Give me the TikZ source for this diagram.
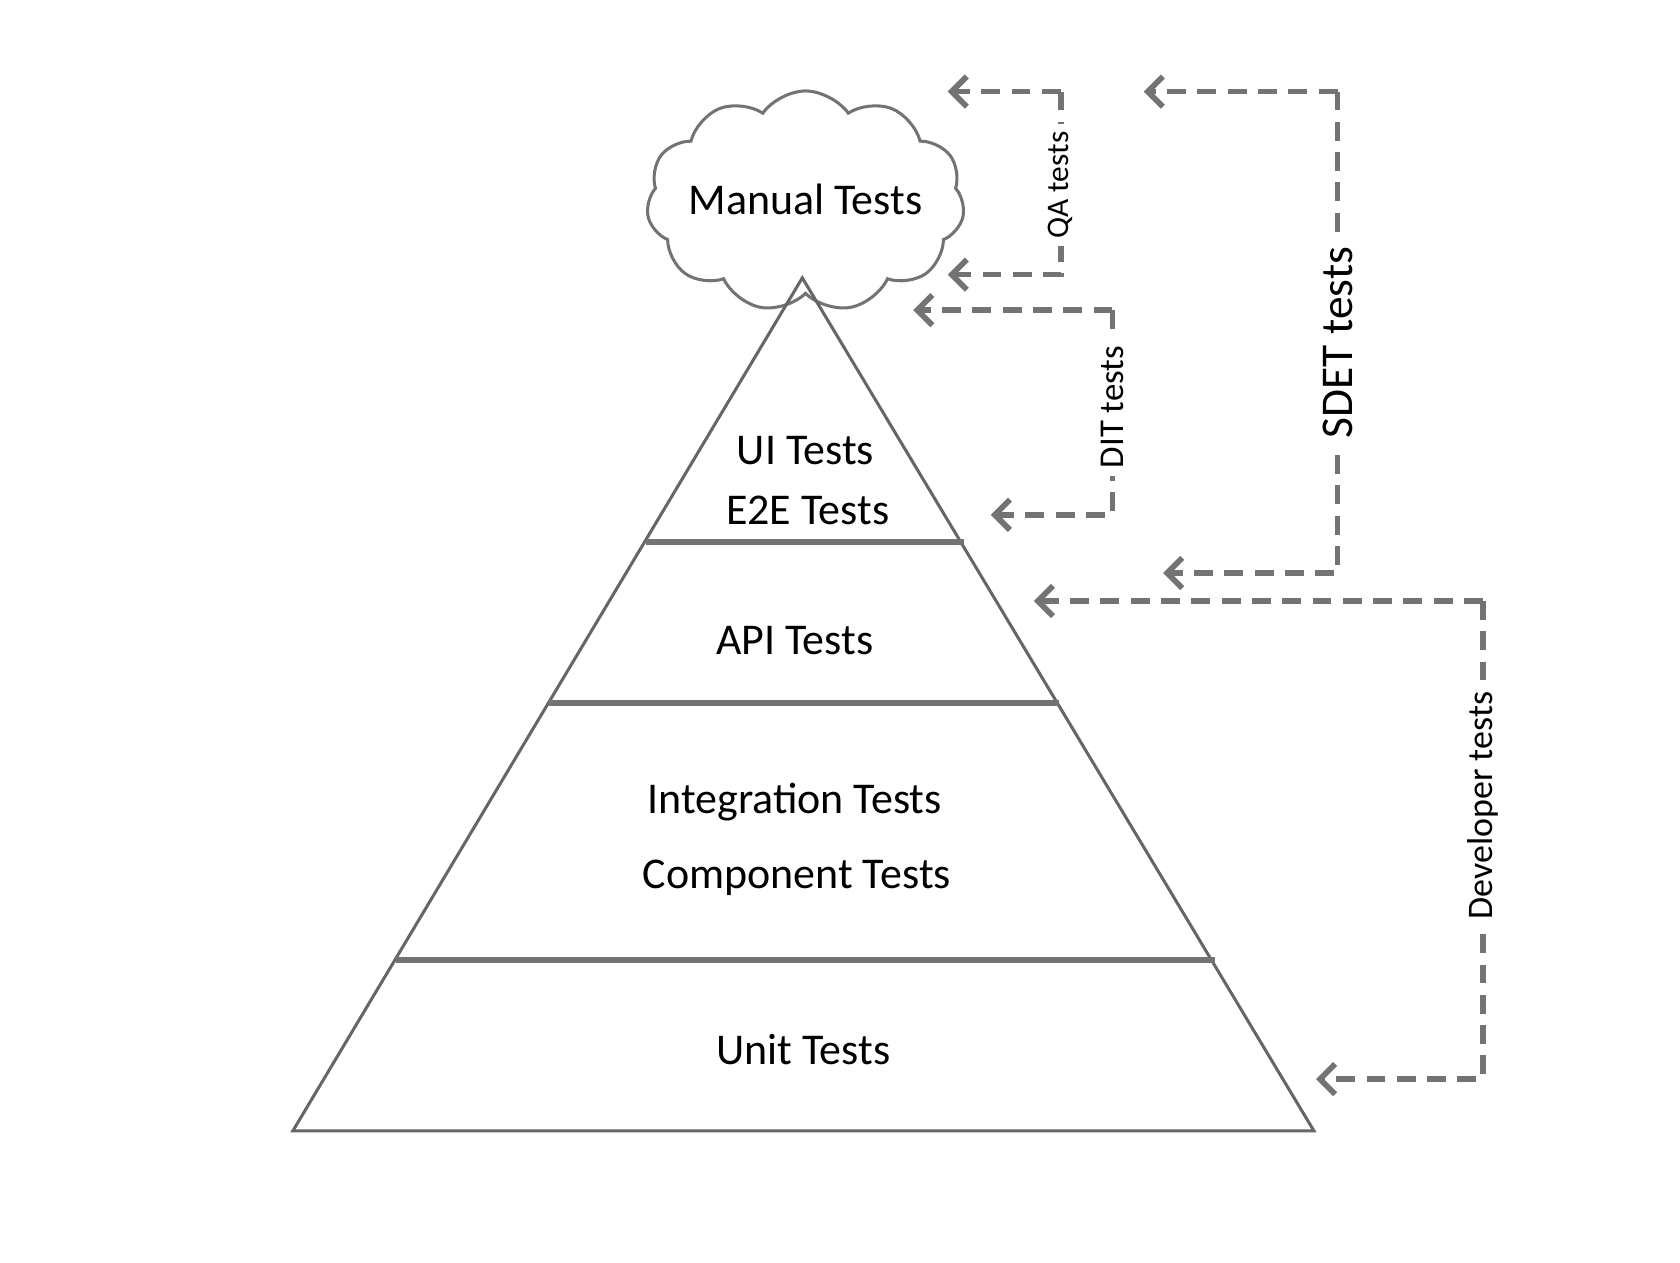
\documentclass[tikz,border=0pt]{standalone}
\usepackage{fontspec}
\setmainfont{Carlito}
\usetikzlibrary{shapes.symbols,arrows.meta}
\begin{document}
\begin{tikzpicture}[x=0.01cm,y=-0.01cm,
  lbl/.style={font=\fontsize{11.6}{14}\selectfont},
  conn/.style={draw=black!55,line width=1.5pt,dash pattern=on 5pt off 3pt,-{Straight Barb[length=4pt,width=8pt]}},
  side/.style={fill=white,rotate=90,inner sep=2pt},
  div/.style={draw=black!55,line width=1.6pt}]
\useasboundingbox (0,0) rectangle (1560,1172);
\node[cloud,cloud puffs=11,cloud puff arc=110,aspect=1.5,draw=black!55,fill=white,minimum width=2.95cm,minimum height=2.05cm,thick] (cloud) at (748,187) {};
\node[lbl] (man) at (748,185) {Manual Tests};
\draw[black!60,thick] (745,258) coordinate (apex) -- (272,1050) coordinate (bl) -- (1220,1050) coordinate (br) -- cycle;
\draw[div] (600,503) -- (895,503);
\draw[div] (510,653) -- (983,653);
\draw[div] (368,891) -- (1128,891);
\node[lbl] (ui) at (748,418) {UI Tests};
\node[lbl] (e2e) at (750,474) {E2E Tests};
\node[lbl] (api) at (738,595) {API Tests};
\node[lbl] (int) at (738,745) {Integration Tests};
\node[lbl] (comp) at (740,815) {Component Tests};
\node[lbl] (unit) at (746,975) {Unit Tests};
% QA
\coordinate (qa1) at (985,85); \coordinate (qa2) at (985,255);
\coordinate (qaT) at (880,85); \coordinate (qaB) at (880,255);
\draw[conn] (qa1) -- (qaT);
\draw[conn] (qa1) -- (qa2) -- (qaB);
\node[side,font=\fontsize{8.3}{10}\selectfont] (qa) at (985,172) {QA tests};
% DIT
\coordinate (d1) at (1033,288); \coordinate (d2) at (1033,478);
\coordinate (dT) at (848,288); \coordinate (dB) at (920,478);
\draw[conn] (d1) -- (dT);
\draw[conn] (d1) -- (d2) -- (dB);
\node[side,font=\fontsize{9.2}{11}\selectfont] (dit) at (1033,378) {DIT tests};
% SDET
\coordinate (s1) at (1242,85); \coordinate (s2) at (1242,532);
\coordinate (sT) at (1062,85); \coordinate (sB) at (1080,532);
\draw[conn] (s1) -- (sT);
\draw[conn] (s1) -- (s2) -- (sB);
\node[side,font=\fontsize{12}{14}\selectfont] (sdet) at (1242,318) {SDET tests};
% Developer
\coordinate (v1) at (1377,558); \coordinate (v2) at (1377,1002);
\coordinate (vT) at (960,558); \coordinate (vB) at (1222,1002);
\draw[conn] (v1) -- (vT);
\draw[conn] (v1) -- (v2) -- (vB);
\node[side,font=\fontsize{9.5}{12}\selectfont] (dev) at (1377,748) {Developer tests};
\end{tikzpicture}
\end{document}
